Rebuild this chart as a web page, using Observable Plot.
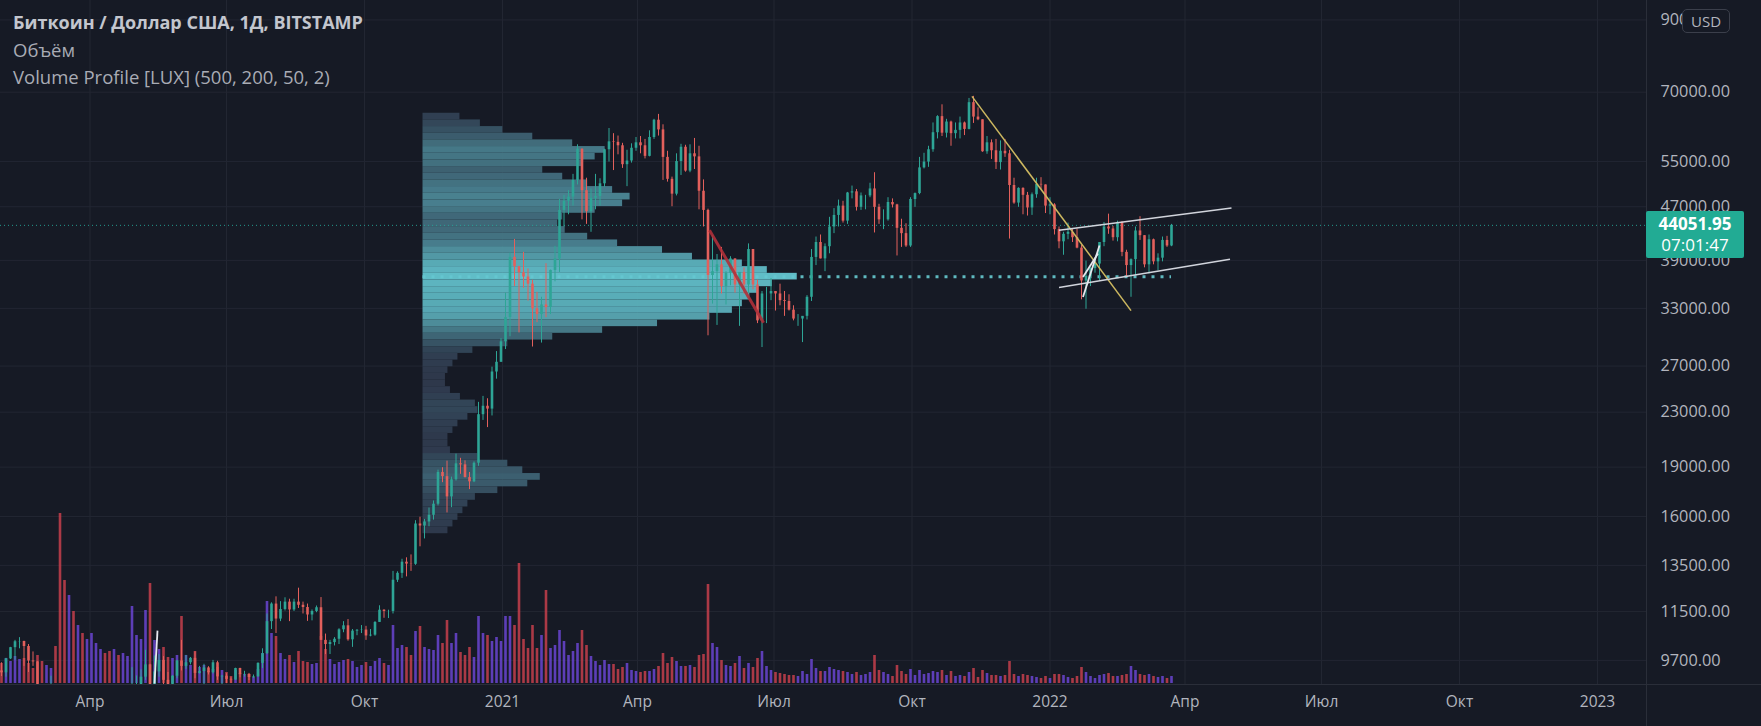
<!DOCTYPE html>
<html><head><meta charset="utf-8">
<script src="https://cdn.jsdelivr.net/npm/d3@7"></script>
<script src="https://cdn.jsdelivr.net/npm/@observablehq/plot@0.6"></script>
<style>
html,body{margin:0;padding:0;background:#161a25;}
#chart{position:relative;width:1761px;height:726px;background:#161a25;overflow:hidden;font-family:"Open Sans",sans-serif;}
#chart svg{position:absolute;left:0;top:0;}
.legend{position:absolute;left:13px;top:9px;color:#a9acb5;font-size:18.5px;line-height:27px;white-space:nowrap;}
.legend .t{color:#c3c6ce;font-weight:700;font-size:18px;}
.sep{position:absolute;background:#2a2e39;}
.tag{position:absolute;left:1646px;width:98px;height:47px;background:#22ab94;border-radius:2px;color:#fff;font-size:17px;line-height:21px;text-align:center;padding-top:2px;box-sizing:border-box;}
.tag b{display:block;font-weight:700;}
.usd{position:absolute;left:1682px;top:9px;width:48px;height:24px;border:1px solid #3b3f4b;border-radius:5px;background:#161a25;color:#b2b5be;font-size:15px;line-height:22px;text-align:center;box-sizing:border-box;}
</style></head><body><div id="chart"></div>
<script>
// ---- data (3-day candles) ----
const startDate = "2020-02-01";
const stepDays = 3;
const firstOpen = 9350;
const closes = [9290,9750,10140,10350,10360,10180,9680,9650,8790,8530,
8760,8900,7900,5600,5000,6180,5820,6680,6240,6420,
6740,7320,7330,6890,6640,7260,6850,7500,7700,8620,
8900,9150,9550,8800,9320,9700,9050,8720,9180,9680,
9500,9620,9770,9270,9330,9450,9290,9620,9160,9180,
9080,9060,9430,9230,9240,9140,9160,9600,9930,11100,
11800,11200,11580,11880,11560,11880,11750,11660,11360,11500,
11650,10400,10250,10320,10440,10790,10940,10420,10740,10770,
10780,10560,10590,11070,11550,11500,11500,12820,13130,13650,
13560,13550,15590,15480,15700,16070,16700,18650,18380,17130,
18180,19220,19150,18320,18050,19260,22800,23480,23250,26450,
27360,29380,31970,39400,38150,37350,36800,35900,32950,32300,
33400,33100,37660,39200,46400,47900,48600,51500,57400,49700,
46200,48400,48700,50900,57300,58900,58800,58100,54400,55100,
57600,58700,58100,56000,59800,63500,61400,55800,51700,49100,
55000,57800,53200,56500,55900,49600,46400,37000,37500,38400,
35600,37300,39200,35800,37400,35800,40500,35800,31600,34700,
34700,35000,34700,33900,33800,32800,31800,31800,32100,34300,
39400,41500,39200,40900,43800,45600,47100,44700,49300,49500,
46900,48800,48800,50000,46900,44900,44900,47700,47300,43600,
42800,41000,48200,49200,53800,54900,57300,60800,64300,60700,
63100,60600,61300,62900,61500,67500,64200,63600,56900,58700,
57100,54800,57000,56500,50600,47600,50100,48900,46800,49000,
50800,50700,47100,47300,43400,41600,42700,43000,42200,40700,
36300,36900,37900,38500,41500,43800,43500,42200,44500,40100,
38300,39100,43200,42500,38400,41900,38800,39300,41800,41000,
44051.95];
const highs = [9620,9770,10150,10400,10500,10370,10250,9990,9660,8900,
8900,9180,8900,7980,5900,6400,6900,6900,6800,6520,
7000,7350,7470,7350,7000,7300,7260,7500,7770,9460,
9190,9390,10050,9570,9850,9900,9830,9300,9200,9700,
10400,9870,9800,9990,9500,9570,9490,9700,9670,9200,
9260,9130,9440,9440,9340,9270,9220,9620,10100,11400,
11850,12100,11900,12060,12000,12000,12470,11880,11800,11560,
11720,12070,10630,10400,10500,10830,11100,11180,10800,10800,
10950,10920,10800,11100,11730,11570,11550,13220,13200,13790,
13860,14000,15770,15960,15840,16480,16890,18800,18960,19400,
18350,19880,19590,19420,18650,19350,23800,24300,24100,26900,
28400,29700,34800,40000,41950,38200,40100,37850,36400,34900,
34300,38550,37700,40950,48200,48900,49700,52600,58300,57500,
51900,50000,52600,51800,57400,61700,60600,60100,58600,57200,
58500,59800,60000,59400,61200,63700,64800,62500,57000,52100,
56500,58400,58200,58300,59600,58000,51600,46600,42500,39800,
40800,37500,39500,39200,36800,38000,41300,40500,36400,35000,
35500,36600,35000,35900,35000,34600,33300,32300,32000,34500,
40500,42300,42600,41300,45300,46700,48100,47900,49400,50500,
49900,49300,48900,51000,52900,47400,46500,48500,48300,47400,
45000,44300,48500,49300,55800,56600,58000,62900,64500,67000,
63700,63300,62900,64200,63100,68500,69000,66300,63600,60000,
59300,59400,59100,59400,57200,51900,50200,50200,49400,49300,
51900,52000,50700,48500,47500,43800,43000,44400,43500,43500,
41100,38900,38000,39000,41500,44500,45800,43900,44700,44600,
40400,39200,43800,45400,42500,42600,42000,39900,42300,42400,
44200];
const lows = [9170,9150,9730,9700,10100,9500,9300,9500,8500,8450,
8500,8700,7650,3850,4450,4960,5700,5800,6030,5860,
6170,6650,7080,6750,6550,6640,6800,6830,7450,7700,
8600,8650,9050,8100,8800,9150,8830,8700,8650,9100,
9350,9400,9550,9100,9250,8900,9220,9250,9050,8850,
8950,8950,9050,9130,9150,9040,9110,9150,9430,9900,
10800,10650,11100,11520,11100,11500,11620,11400,11110,11130,
11450,10400,9900,9900,10200,10250,10680,10370,10150,10570,
10650,10400,10530,10550,11070,11230,11220,11400,12720,12900,
12970,13220,13500,14400,14800,15440,15800,16600,18000,16200,
16500,18100,18530,18300,17570,18000,19050,22350,21800,22700,
25800,27350,28600,29900,35600,30300,35400,33850,28850,31400,
29250,31950,32300,36200,37400,43800,45700,47100,50700,44900,
44200,43000,46500,47100,50300,54900,53300,56300,53700,50400,
54700,57000,56500,55500,55900,59400,60100,51500,51200,47000,
48800,52400,53000,52900,53500,46500,43800,30000,33500,31100,
34700,33400,35700,34800,31000,34700,34800,35200,31300,28800,
31300,33900,32700,33300,32100,32700,31600,31000,29300,31700,
33800,38300,39200,37500,39900,42800,43800,44400,44200,48300,
46300,46400,46500,48500,42900,44200,43400,44700,46800,39600,
40800,40800,40800,46900,49000,53600,53900,56800,59500,60000,
59700,58000,59500,59500,60200,61400,62800,63400,56800,56400,
55400,53500,53400,55800,42000,47400,46900,45700,45500,45600,
48400,49900,45900,45700,42600,40600,39700,41900,41500,40600,
34000,32900,35600,37300,36300,40900,42700,41700,41600,39500,
36800,34300,37000,41800,38000,37200,38400,37600,38800,40800,
40900];
const volumes = [10000,12500,11000,13500,12000,12500,10000,7500,14000,11000,
9000,7500,18500,85000,51500,44000,36000,29000,25000,22000,
25000,20000,17000,15000,16000,17000,14000,15000,13500,38500,
24000,22000,36500,50000,21500,17000,18000,13000,12500,14000,
33500,14000,9000,16000,8000,9000,6000,7000,8000,6500,
5500,3500,6500,5000,4500,4500,3000,7000,15000,41000,
25000,23500,15000,12000,14000,10500,16000,11000,10500,9500,
10000,23500,17000,12000,9500,10500,11500,12000,11000,8000,
9000,10500,8500,11000,12500,10000,9000,29000,17500,19000,
18000,14000,26000,28500,18000,17000,16500,24000,20000,31500,
20000,25000,15500,14000,18000,13000,33500,25000,24000,21000,
23000,21000,33500,33500,29000,60000,22000,17500,29000,17500,
24000,46500,17500,19000,26500,21000,14000,16000,20000,26500,
19000,13500,11000,9000,11500,9500,9500,7000,8000,10000,
6500,6000,5500,6000,6000,7000,8500,15000,10000,13000,
11000,8500,8500,9000,8000,14000,14500,49500,20000,18000,
11500,9000,8500,10000,13500,7500,10000,8000,12500,16000,
8500,6500,5500,5000,4500,4000,4000,3500,6000,4500,
12000,7500,6000,6000,8000,7000,6500,6000,5500,4500,
5500,4000,4500,5500,14000,6500,5500,4500,3500,9000,
6000,4500,7000,4000,6500,4500,5000,6000,5500,6500,
4000,6000,3500,4000,3500,5500,7500,3000,6500,5000,
4000,4000,3500,4000,11000,4500,3500,4500,4000,3500,
3000,2500,3500,2500,4500,4500,4000,3000,2500,3500,
8000,5500,3500,2500,4000,4500,5000,3500,3500,4000,
4500,8500,6500,4500,4000,4500,3500,3000,3500,2500,
3500];
// Volume profile (500 bars, rows): row bounds (USD) and volume per row (kBTC)
const profileBars = 500;
const profileWidthPct = 50;
const profileBounds = [65060,63570,62110,60690,59300,57940,56610,55310,54040,52800,51590,50410,49250,48120,47020,45940,44890,43860,42850,41870,40910,39970,39050,38160,37280,36430,35590,34780,33980,33200,32440,31690,30970,30260,29560,28880,28220,27570,26940,26320,25720,25130,24550,23990,23440,22900,22370,21860,21360,20870,20390,19920,19460,19020,18580,18150,17740,17330,16930,16540,16160,15790,15430,15070];
const profileVolumes = [14.8,23,32,44,60,73,69,64,48,56,66,76,83,80,69,56,54,57,66,78,96,108,128,138,150,140,134,131,128,124,115,94,72,52,34,20,14,12,10,9,9,11,15,21,22,18,14,12,10,10,11,22,34,40,47,42,30,21,18,16,14,12,10];
// axes
const xTickDates = ["2020-04-01","2020-07-01","2020-10-01","2021-01-01","2021-04-01","2021-07-01","2021-10-01","2022-01-01","2022-04-01","2022-07-01","2022-10-01","2023-01-01"];
const xTickLabels = ["Апр","Июл","Окт","2021","Апр","Июл","Окт","2022","Апр","Июл","Окт","2023"];
const yTicks = [9700,11500,13500,16000,19000,23000,27000,33000,39000,47000,55000,70000,90000];
// drawings (date, price)
const redTrend = [["2021-05-19",43300],["2021-06-24",31400]];
const yellowTrend = [["2021-11-10",69000],["2022-02-24",32750]];
const channelUpper = [["2022-01-07",43300],["2022-05-02",46800]];
const channelLower = [["2022-01-07",35480],["2022-05-01",39150]];
const flagA = [["2022-01-23",34330],["2022-02-03",41060]];
const flagB = [["2022-01-23",36800],["2022-02-02",39940]];
const smallLine = [["2020-05-14",8950],["2020-05-16",10760]];
const lastTime = "07:01:47";

// ---- build ----
const W = 1761, H = 726, MR = 115, MB = 42, PR = W - MR, PB = H - MB;
const xDomain = [new Date("2020-02-01T08:00:00Z"), new Date("2023-02-02T16:00:00Z")];
const yDomain = [8920, 96300];
const UP = "#2ea596", DOWN = "#e3605c";
const periods = closes.map((c, i) => ({
  date: d3.utcDay.offset(new Date(startDate + "T00:00:00Z"), stepDays * i + 1),
  open: i ? closes[i - 1] : firstOpen, high: highs[i], low: lows[i], close: c, volume: volumes[i]
}));
periods.forEach(p => p.up = p.close >= p.open);
const last = periods[periods.length - 1];
const anchorDate = d3.utcDay.offset(last.date, -(profileBars - 1));
const rows = profileVolumes.map((v, i) => ({hi: profileBounds[i], lo: profileBounds[i + 1], v}));
const poc = rows.reduce((a, b) => (b.v > a.v ? b : a));
const pocPrice = Math.sqrt(poc.hi * poc.lo);
const xLabelMap = new Map(xTickDates.map((d, i) => [+new Date(d + "T00:00:00Z"), xTickLabels[i]]));
const xTicks = xTickDates.map(d => new Date(d + "T00:00:00Z"));
const toSeg = (pts) => ({x1: new Date(pts[0][0] + "T00:00:00Z"), y1: pts[0][1], x2: new Date(pts[1][0] + "T00:00:00Z"), y2: pts[1][1]});

const style = {background: "transparent", color: "#b2b5be", fontSize: "16.3px", fontFamily: "'Open Sans', sans-serif", overflow: "visible"};
const frame = {width: W, height: H, marginLeft: 0, marginRight: MR, marginTop: 0, marginBottom: MB, style};
const xS = {type: "utc", domain: xDomain, range: [0, PR]};
const yS = {type: "log", domain: yDomain, range: [PB, 0]};

const base = Plot.plot({
  ...frame, x: {...xS, label: null}, y: {...yS, label: null},
  marks: [
    Plot.gridX(xTicks, {stroke: "#222632", strokeOpacity: 1}),
    Plot.gridY(yTicks, {stroke: "#222632", strokeOpacity: 1}),
    Plot.axisX(xTicks, {tickFormat: d => xLabelMap.get(+d), tickSize: 0, tickPadding: 11, fill: "#b2b5be", label: null, fontSize: 15.5}),
    Plot.axisY(yTicks, {anchor: "right", tickFormat: d => d.toFixed(2), tickSize: 0, tickPadding: 14, fill: "#b2b5be", label: null}),
    Plot.ruleY([{y: pocPrice, a: anchorDate, b: last.date}], {y: "y", x1: "a", x2: "b", stroke: "#5fb9c0", strokeWidth: 3, strokeDasharray: "3,6"})
  ]
});

const vol = Plot.plot({
  ...frame, x: {...xS, axis: null}, y: {type: "linear", domain: [0, 85000], range: [PB - 1, PB - 171], axis: null},
  marks: [
    Plot.ruleX(periods, {x: "date", y1: 0, y2: "volume", stroke: d => d.up ? "#6a45d2" : "#c63f4c", strokeWidth: 2.6, strokeOpacity: 0.85, clip: true})
  ]
});

const xScaleFn = base.scale("x");
const pLeft = xScaleFn.apply(anchorDate);
const pRight = pLeft + (xScaleFn.apply(last.date) - pLeft) * profileWidthPct / 100;
const maxV = d3.max(profileVolumes);
const pColor = d3.interpolateRgb("#2a2e42", "#64c6d0");
const prof = Plot.plot({
  ...frame, x: {type: "linear", domain: [0, maxV], range: [pLeft, pRight], axis: null}, y: {...yS, axis: null},
  marks: [
    Plot.rect(rows, {x1: 0, x2: "v", y1: "lo", y2: "hi", fill: d => pColor(Math.pow(d.v / maxV, 0.9)), fillOpacity: 0.95})
  ]
});

const segs = (pts, s) => Plot.link([toSeg(pts)], {x1: "x1", y1: "y1", x2: "x2", y2: "y2", ...s});
const candles = Plot.plot({
  ...frame, x: {...xS, axis: null}, y: {...yS, axis: null},
  marks: [
    Plot.ruleY([last.close], {stroke: "#26a69a", strokeWidth: 1, strokeDasharray: "1,3", strokeOpacity: 0.9}),
    Plot.ruleX(periods, {x: "date", y1: "low", y2: "high", stroke: d => d.up ? UP : DOWN, strokeWidth: 1, clip: true}),
    Plot.ruleX(periods, {x: "date", y1: "open", y2: "close", stroke: d => d.up ? UP : DOWN, strokeWidth: 2.6, clip: true}),
    segs(redTrend, {stroke: "#b0303a", strokeWidth: 3, strokeOpacity: 0.9}),
    segs(yellowTrend, {stroke: "#cdb860", strokeWidth: 1.5}),
    segs(channelUpper, {stroke: "#d1d4dc", strokeWidth: 1.5}),
    segs(channelLower, {stroke: "#d1d4dc", strokeWidth: 1.5}),
    segs(flagA, {stroke: "#e6e8ee", strokeWidth: 1.8}),
    segs(flagB, {stroke: "#e6e8ee", strokeWidth: 1.8}),
    segs(smallLine, {stroke: "#e6e8ee", strokeWidth: 1.8, clip: true})
  ]
});

const root = document.getElementById("chart");
[base, vol, prof, candles].forEach(s => root.appendChild(s));

const sepR = document.createElement("div"); sepR.className = "sep";
Object.assign(sepR.style, {left: PR + "px", top: "0px", width: "1px", height: H + "px"});
const sepB = document.createElement("div"); sepB.className = "sep";
Object.assign(sepB.style, {left: "0px", top: PB + "px", width: W + "px", height: "1px"});
root.appendChild(sepR); root.appendChild(sepB);

const legend = document.createElement("div"); legend.className = "legend";
legend.innerHTML = '<div class="t">Биткоин / Доллар США, 1Д, BITSTAMP</div><div>Объём</div><div>Volume Profile [LUX] (500, 200, 50, 2)</div>';
root.appendChild(legend);

const usd = document.createElement("div"); usd.className = "usd"; usd.textContent = "USD";
root.appendChild(usd);

const ty = candles.scale("y").apply(last.close);
const tag = document.createElement("div"); tag.className = "tag";
tag.style.top = (ty - 14) + "px";
tag.innerHTML = "<b>" + last.close.toFixed(2) + "</b>" + lastTime;
root.appendChild(tag);
</script></body></html>
